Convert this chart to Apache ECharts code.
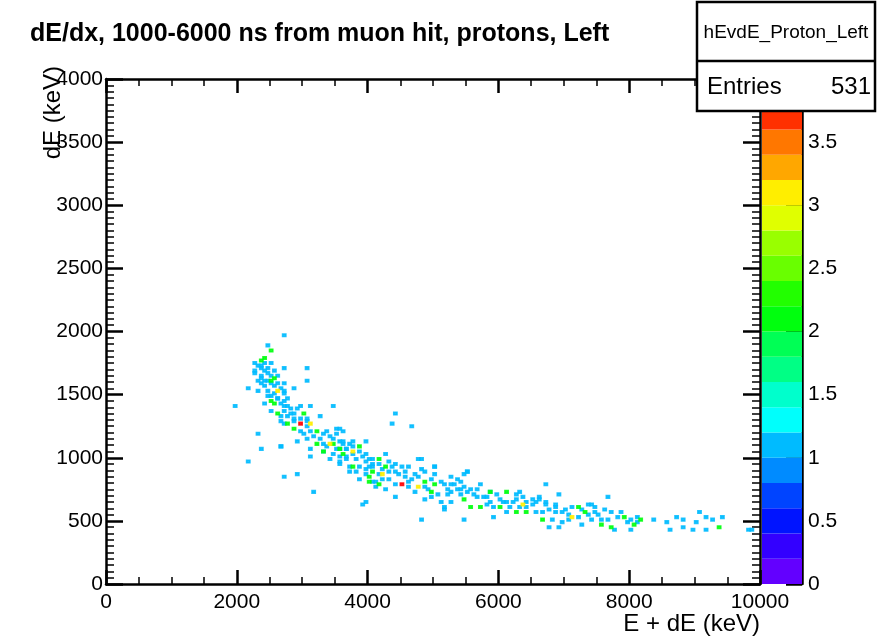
<!DOCTYPE html>
<html>
<head>
<meta charset="utf-8">
<title>hEvdE_Proton_Left</title>
<script src="https://cdn.jsdelivr.net/npm/echarts@6/dist/echarts.min.js"></script>
<style>
  html, body { margin: 0; padding: 0; background: #fff; }
  #chart { width: 878px; height: 638px; }
</style>
</head>
<body>
<div id="chart"></div>
<script>
// 2D histogram, bins of 50 keV (E + dE) x 20 keV (dE)
const BIN_X = 50;
const BIN_Y = 20;
const Z_MAX = 4;
const N_BANDS = 20;

const xRange = [0, 10000];
const yRange = [0, 4000];
const entries = 531;

// ROOT "pretty" palette, 20 contour bands
const palette = ['#6300ff', '#3300ff', '#0014ff', '#0044ff', '#008bff', '#00bbff', '#00fffc', '#00ffcc', '#00ff85', '#00ff55',
  '#00ff0e', '#22ff00', '#69ff00', '#99ff00', '#e0ff00', '#ffee00', '#ffa700', '#ff7700', '#ff3000', '#ff0000'];

// [E + dE, dE] in keV, one entry per bin
const hitsOne = [
  [2735,1967],[2454,1880],[2275,1749],[2377,1736],[2505,1741],[2735,1715],[3068,1715],[2250,1683],[2352,1657],[2454,1662],
  [2633,1657],[2301,1617],[2403,1604],[2710,1591],[3068,1604],[2173,1552],[2327,1539],[2454,1539],[2735,1525],[2889,1552],
  [2505,1486],[2633,1473],[2761,1460],[1994,1412],[2403,1434],[2735,1407],[2966,1412],[3119,1412],[3452,1412],[2505,1373],
  [2710,1363],[2863,1347],[2659,1294],[2889,1315],[3093,1310],[3298,1328],[2327,1189],[2991,1215],[3375,1210],[3503,1223],
  [2940,1131],[3068,1144],[3349,1118],[3579,1079],[2378,1073],[2659,1099],[3145,1066],[3426,986],[3554,973],[2173,968],
  [2940,876],
  [4423,1355],[4357,1268],[4694,1241],[3554,1236],[3630,1215],[3605,1131],[3784,1131],[3963,1131],[3682,1079],[3988,1039],
  [3579,1012],[3682,999],[3809,986],[4090,999],[4295,1039],[3554,947],[3886,920],[4090,933],[4423,947],[4500,920],
  [4628,933],[4781,986],[5011,933],[3733,894],[4346,881],[4576,881],[4704,868],[4857,881],[5036,868],[3886,828],
  [4142,815],[4628,802],[5292,854],[5497,868],[4142,762],[4295,749],[4704,736],[5216,749],[5292,723],[5420,749],
  [4883,671],[5139,657],[4449,697],[3963,644],[3912,631],[5190,605],[5292,657],
  [5522,881],[5420,802],[5573,749],[5701,789],[5650,684],[5752,697],[5854,657],[5931,618],[6136,657],[6315,736],
  [6264,671],[6443,657],[6545,671],[6647,697],[6724,789],[6724,644],[6750,592],[5931,539],[6110,579],[6596,579],
  [6929,710],[6878,631],[6852,566],[7005,592],[7056,552],[7389,631],[7465,618],[7517,552],[7593,513],[7287,460],
  [6954,499],[6826,513],[6775,447],[6929,447],[5471,513],[7619,592],
  [7670,684],[7670,513],[7798,421],[7875,566],[8002,513],[8002,429],[8104,539],[8130,499],[8360,513],[8565,486],
  [8616,434],[8744,539],[8821,513],[8846,455],[8974,429],[9025,486],[9077,571],[9152,421],[9178,539],[9281,513],
  [9409,539],[9818,421],[9868,434],
  [4808,986],[5036,933],[5547,881],[4808,518],[5190,592],[5318,789],[7440,631],
  [2669,1099],[2735,854],[3185,736],[3145,1012],[3707,933],
  [2300,1720],[2350,1700],[2400,1680],[2450,1700],[2500,1650],[2350,1580],[2400,1560],[2500,1580],[2550,1560],[2600,1580],
  [2650,1540],[2550,1500],[2600,1460],[2450,1480],[2700,1500],[2350,1620],[2280,1660],[2420,1740],[2480,1610],[2560,1690],
  [2650,1420],[2700,1440],[2780,1400],[2820,1380],[2680,1330],[2750,1320],[2800,1340],[2920,1380],[2850,1290],[2950,1300],
  [3050,1280],[2700,1260],[3000,1180],[3100,1200],[3180,1160],[3050,1240],
  [3250,1140],[3300,1180],[3400,1160],[3450,1140],[3500,1180],[3550,1120],[3350,1080],[3500,1060],[3600,1100],[3650,1060],
  [3700,1100],[3750,1080],[3450,1020],[3650,1000],[3750,1020],[3300,1040],
  [3850,1040],[3900,1000],[3950,960],[4000,980],[4050,940],[3950,900],[4000,920],[4150,940],[4200,900],[4300,960],
  [4350,920],[4400,880],[4450,860],[4150,860],[4200,820],[3950,860],[3800,880],[4050,800],[4300,820],[4400,780],
  [4550,840],[4650,820],[4600,760],[4750,840],[4800,900],
  [4850,760],[4900,740],[4950,820],[5100,800],[5150,780],[5250,780],[5350,740],[5400,700],[5050,700],[4950,680],
  [5350,820],[5450,760],[5200,700],[5500,720],
  [5600,700],[5650,740],[5800,680],[5850,720],[5950,700],[6000,660],[6050,640],[6200,640],[6250,700],[6350,680],
  [6400,600],[6500,620],[6550,640],[6600,660],[6700,620],[6650,560],[6300,600],[5800,620],[6150,600],[6850,600],
  [6950,560],
  [7100,600],[7250,580],[7350,540],[7450,560],[7200,520],[7050,500],[7400,500],[7700,560],[7800,520],[7950,480]
];
const hitsTwo = [
  [2505,1854],[2403,1789],[2378,1760],[2557,1631],[2530,1602],[2531,1447],[2582,1420],[2633,1355],[3017,1347],[2786,1276],
  [2889,1223],[3247,1210],[3221,1105],[3452,1105],[3324,1052],[3630,1039],[3554,1065],[3886,1092],[4167,986],[3758,933],
  [4269,920],[4013,854],[4090,881],[4013,802],[4162,789],[4883,802],[5036,789],[4986,736],[5471,676],[5880,736],
  [5599,618],[5701,605],[6033,605],[6110,736],[6289,566],[6443,566],[7210,618],[7312,566],[7568,460],[6698,513],
  [7721,447],[7900,526],[8079,460],[8181,513],[9358,455]
];
const hitsThree = [[2608,1525],[3119,1268],[3400,1100],[3758,1052],[4244,868],[4781,776],[6366,631],[7133,539]];
const hitsFour = [[2991,1268],[4500,794]];

const FONT = "'Liberation Sans', Arial, Helvetica, sans-serif";

function toBins(list, count) {
  return list.map(function (p) {
    return [Math.floor(p[0] / BIN_X) * BIN_X, Math.floor(p[1] / BIN_Y) * BIN_Y, count];
  });
}
const cells = [].concat(toBins(hitsOne, 1), toBins(hitsTwo, 2), toBins(hitsThree, 3), toBins(hitsFour, 4));

const bandSize = Z_MAX / N_BANDS;
const pieces = palette.map(function (c, i) {
  const p = { gte: i * Z_MAX / N_BANDS, color: c };
  if (i < N_BANDS - 1) p.lt = (i + 1) * Z_MAX / N_BANDS;
  return p;
});

const blackLine = { color: '#000', width: 2.5 };
function frameAxis(extra) {
  return Object.assign({
    type: 'value',
    gridIndex: 0,
    axisLine: { show: true, onZero: false, lineStyle: blackLine },
    axisTick: { show: true, inside: true, lineStyle: blackLine },
    minorTick: { show: true, lineStyle: { color: '#000', width: 1.5 } },
    splitLine: { show: false },
    axisLabel: { show: false }
  }, extra);
}
// ROOT style labels: no thousands separator
const tickLabel = {
  show: true, color: '#000', fontSize: 21, fontFamily: FONT, showMinLabel: true, showMaxLabel: true,
  formatter: function (v) { return String(v); }
};

const paletteSeries = palette.map(function (c, i) {
  return {
    type: 'bar', xAxisIndex: 2, yAxisIndex: 2, stack: 'palette', silent: true,
    barWidth: '100%', data: [bandSize], itemStyle: { color: c }
  };
});

let chart = echarts.init(document.getElementById('chart'), null, { renderer: 'canvas' });

let option = {
  animation: false,
  backgroundColor: '#fff',
  title: {
    text: 'dE/dx, 1000-6000 ns from muon hit, protons, Left',
    left: 30, top: 22, padding: 0,
    textStyle: { fontSize: 25, fontWeight: 'bold', color: '#000', fontFamily: FONT }
  },
  grid: [
    { left: 106, top: 79, width: 654, height: 505 },
    { left: 762, top: 79, width: 40, height: 505 }
  ],
  xAxis: [
    frameAxis({ position: 'bottom', min: xRange[0], max: xRange[1], interval: 2000,
      axisTick: { show: true, inside: true, length: 14, lineStyle: blackLine },
      minorTick: { show: true, splitNumber: 4, length: 7, lineStyle: { color: '#000', width: 1.5 } },
      axisLabel: Object.assign({ margin: 8 }, tickLabel) }),
    frameAxis({ position: 'top', min: xRange[0], max: xRange[1], interval: 2000,
      axisTick: { show: true, inside: true, length: 14, lineStyle: blackLine },
      minorTick: { show: true, splitNumber: 4, length: 7, lineStyle: { color: '#000', width: 1.5 } } }),
    { type: 'category', gridIndex: 1, data: ['z'], show: false }
  ],
  yAxis: [
    frameAxis({ position: 'left', min: yRange[0], max: yRange[1], interval: 500,
      axisTick: { show: true, inside: true, length: 17, lineStyle: blackLine },
      minorTick: { show: true, splitNumber: 10, length: 8, lineStyle: { color: '#000', width: 1.5 } },
      axisLabel: Object.assign({ margin: 3 }, tickLabel) }),
    frameAxis({ position: 'right', min: yRange[0], max: yRange[1], interval: 500,
      axisTick: { show: true, inside: true, length: 17, lineStyle: blackLine },
      minorTick: { show: true, splitNumber: 10, length: 8, lineStyle: { color: '#000', width: 1.5 } } }),
    {
      type: 'value', gridIndex: 1, position: 'right', min: 0, max: Z_MAX, interval: 0.5,
      axisLine: { show: true, lineStyle: blackLine },
      axisTick: { show: true, inside: true, length: 16, lineStyle: blackLine },
      splitLine: { show: false },
      axisLabel: Object.assign({}, tickLabel, { margin: 6, formatter: function (v) { return v === Z_MAX ? '' : String(v); } })
    }
  ],
  visualMap: {
    type: 'piecewise', show: false, seriesIndex: 0, dimension: 2, pieces: pieces
  },
  series: [
    {
      type: 'custom',
      xAxisIndex: 0, yAxisIndex: 0,
      clip: true,
      data: cells,
      renderItem: function (params, api) {
        const p0 = api.coord([api.value(0), api.value(1)]);
        const p1 = api.coord([api.value(0) + BIN_X, api.value(1) + BIN_Y]);
        const color = api.visual('color');
        // soft edge to mimic the smoothed rendering of the original
        return {
          type: 'rect',
          shape: { x: p0[0], y: p1[1], width: p1[0] - p0[0], height: p0[1] - p1[1] },
          style: { fill: color, stroke: color, lineWidth: 1.6, opacity: 0.85 }
        };
      }
    }
  ].concat(paletteSeries),
  graphic: [
    {
      type: 'text', x: 53, y: 66, rotation: Math.PI / 2, z: 50,
      style: { text: 'dE (keV)', fill: '#000', font: '24px ' + FONT, align: 'right', verticalAlign: 'middle' }
    },
    {
      type: 'text', x: 760, y: 624, z: 50,
      style: { text: 'E + dE (keV)', fill: '#000', font: '24px ' + FONT, align: 'right', verticalAlign: 'middle' }
    },
    {
      type: 'group', z: 100,
      children: [
        { type: 'rect', z: 100, shape: { x: 697, y: 2, width: 178, height: 109 },
          style: { fill: '#fff', stroke: '#000', lineWidth: 2.5 } },
        { type: 'line', z: 101, shape: { x1: 697, y1: 61, x2: 875, y2: 61 },
          style: { stroke: '#000', lineWidth: 2.5 } },
        { type: 'text', z: 101, x: 786, y: 33,
          style: { text: 'hEvdE_Proton_Left', fill: '#000', font: '19px ' + FONT, align: 'center', verticalAlign: 'middle' } },
        { type: 'text', z: 101, x: 707, y: 87,
          style: { text: 'Entries', fill: '#000', font: '24px ' + FONT, align: 'left', verticalAlign: 'middle' } },
        { type: 'text', z: 101, x: 871, y: 87,
          style: { text: String(entries), fill: '#000', font: '24px ' + FONT, align: 'right', verticalAlign: 'middle' } }
      ]
    }
  ]
};

chart.setOption(option);
window.addEventListener('resize', () => {
  chart.resize();
});
</script>
</body>
</html>
